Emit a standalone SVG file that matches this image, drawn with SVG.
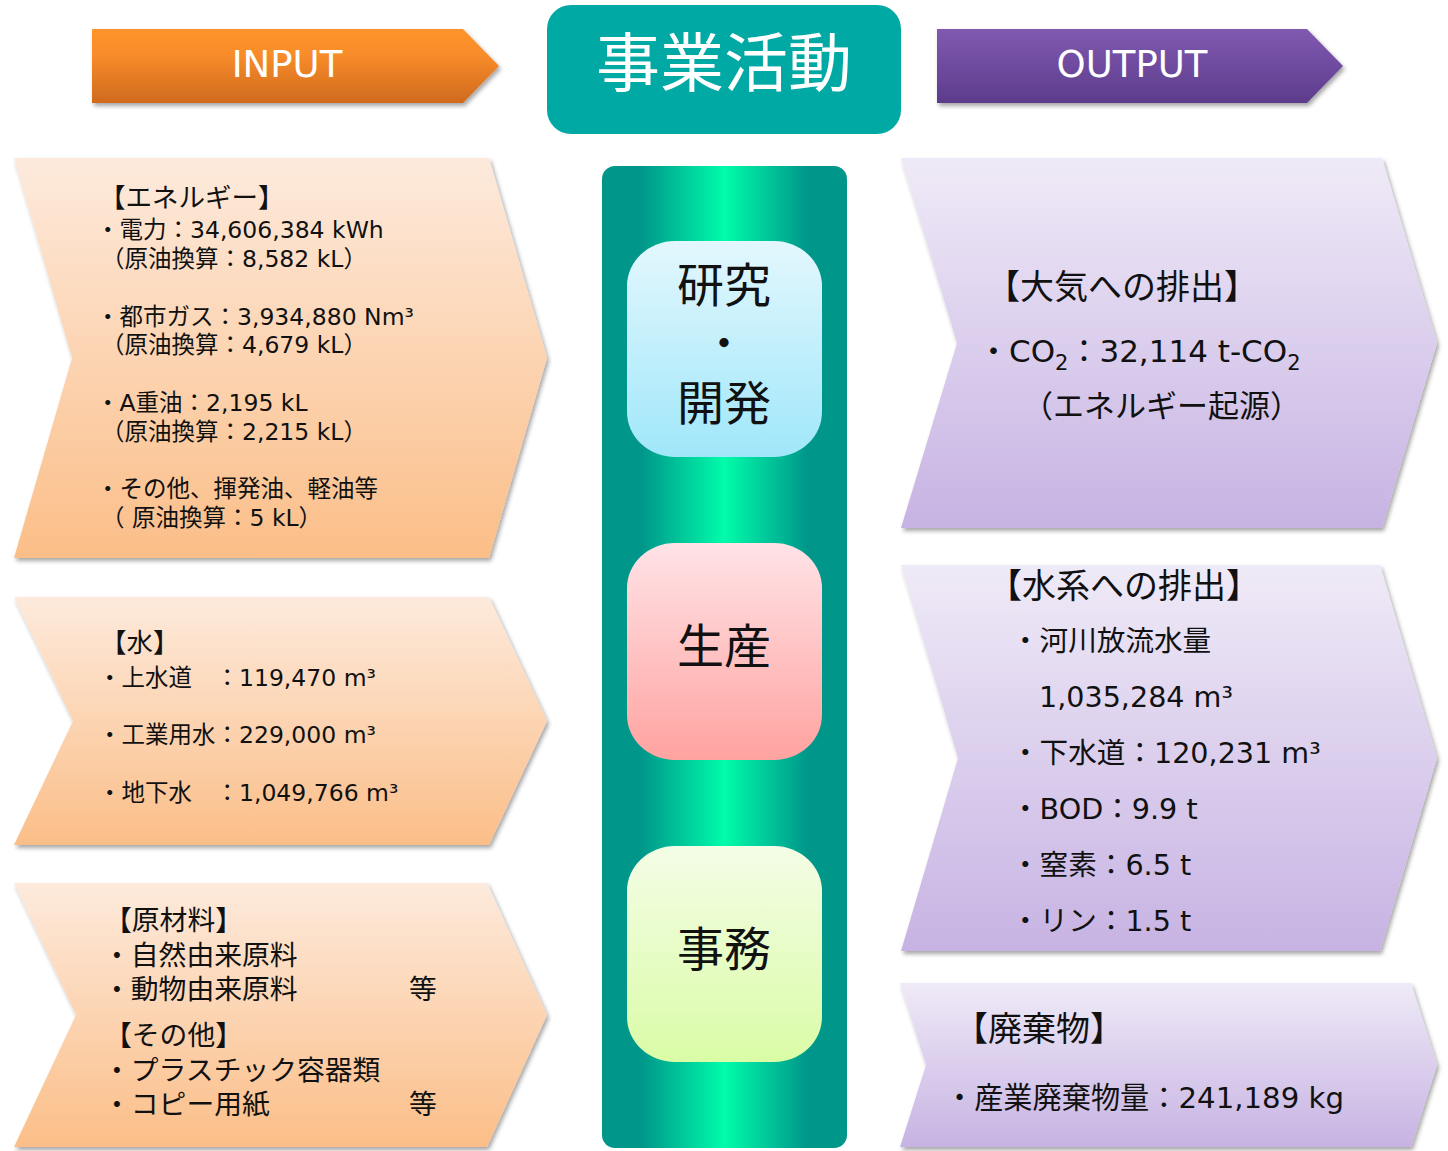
<svg xmlns="http://www.w3.org/2000/svg" width="1448" height="1151" viewBox="0 0 1448 1151">
<defs>
  <linearGradient id="gIn" x1="0" y1="0" x2="0" y2="1">
    <stop offset="0" stop-color="#FDEADC"/>
    <stop offset="1" stop-color="#FBBE88"/>
  </linearGradient>
  <linearGradient id="gOut" x1="0" y1="0" x2="0" y2="1">
    <stop offset="0" stop-color="#EFEAF7"/>
    <stop offset="1" stop-color="#C7B3E3"/>
  </linearGradient>
  <linearGradient id="gInBan" x1="0" y1="0" x2="0" y2="1">
    <stop offset="0" stop-color="#FF942D"/>
    <stop offset="0.35" stop-color="#F88C2A"/>
    <stop offset="1" stop-color="#CF6A1E"/>
  </linearGradient>
  <linearGradient id="gOutBan" x1="0" y1="0" x2="0" y2="1">
    <stop offset="0" stop-color="#8059B1"/>
    <stop offset="1" stop-color="#5D3C8B"/>
  </linearGradient>
  <linearGradient id="gCol" x1="0" y1="0" x2="1" y2="0">
    <stop offset="0" stop-color="#00968A"/>
    <stop offset="0.16" stop-color="#00968A"/>
    <stop offset="0.5" stop-color="#00FCAA"/>
    <stop offset="0.84" stop-color="#00968A"/>
    <stop offset="1" stop-color="#00968A"/>
  </linearGradient>
  <linearGradient id="gBlue" x1="0" y1="0" x2="0" y2="1">
    <stop offset="0" stop-color="#E3F7FD"/>
    <stop offset="1" stop-color="#A0E7FA"/>
  </linearGradient>
  <linearGradient id="gPink" x1="0" y1="0" x2="0" y2="1">
    <stop offset="0" stop-color="#FFE3E7"/>
    <stop offset="1" stop-color="#FFA3A0"/>
  </linearGradient>
  <linearGradient id="gGreen" x1="0" y1="0" x2="0" y2="1">
    <stop offset="0" stop-color="#F4FDE6"/>
    <stop offset="1" stop-color="#DAFCA6"/>
  </linearGradient>
  <filter id="sh" x="-5%" y="-5%" width="112%" height="115%">
    <feDropShadow dx="2" dy="3" stdDeviation="2" flood-color="#000" flood-opacity="0.35"/>
  </filter>
</defs>
<style>
  text { font-family: 'DejaVu Sans', 'Noto Sans CJK JP', sans-serif; fill: #111; }
  .ban { fill: #fff; font-size: 37px; text-anchor: middle; }
  .t23 { font-size: 23.5px; }
  .h26 { font-size: 26.5px; }
  .t27 { font-size: 27.8px; }
  .oh { font-size: 34px; }
  .o31 { font-size: 31px; }
  .o28 { font-size: 28.6px; }
  .mid { font-size: 47px; text-anchor: middle; font-family: 'Noto Sans CJK JP', sans-serif; }
  .dot { font-size: 36px; font-weight: bold; text-anchor: middle; font-family: 'Noto Sans CJK JP', sans-serif; }
</style>

<g id="input-banner">
  <path d="M92,29 L463,29 L499,66 L463,103 L92,103 Z" fill="url(#gInBan)" filter="url(#sh)"/>
  <text class="ban" x="287" y="77">INPUT</text>
</g>

<g id="output-banner">
  <path d="M937,29 L1307,29 L1343,66 L1307,103 L937,103 Z" fill="url(#gOutBan)" filter="url(#sh)"/>
  <text class="ban" x="1132" y="77">OUTPUT</text>
</g>

<g id="business-activity">
  <rect x="547" y="5" width="354" height="129" rx="24" fill="#00A9A4"/>
  <text x="724" y="86" font-size="64" text-anchor="middle" style="fill:#fff;font-family:'Noto Sans CJK JP',sans-serif">事業活動</text>
</g>

<g id="column">
  <rect x="602" y="166" width="245" height="982" rx="13" fill="url(#gCol)"/>
</g>

<g id="rd">
  <rect x="627" y="241" width="195" height="216" rx="48" ry="45" fill="url(#gBlue)"/>
  <text class="mid" x="724" y="302">研究</text>
  <text class="dot" x="724" y="357">・</text>
  <text class="mid" x="724" y="420">開発</text>
</g>

<g id="production">
  <rect x="627" y="543" width="195" height="217" rx="48" ry="45" fill="url(#gPink)"/>
  <text class="mid" x="724" y="663">生産</text>
</g>

<g id="office">
  <rect x="627" y="846" width="195" height="216" rx="48" ry="45" fill="url(#gGreen)"/>
  <text class="mid" x="724" y="966">事務</text>
</g>

<g id="input-energy">
  <path d="M14,158 L489,158 L547,358 L489,558 L14,558 L72,358 Z" fill="url(#gIn)" filter="url(#sh)"/>
  <text class="h26" x="99" y="207">【エネルギー】</text>
  <text class="t23" x="96" y="238">・電力：34,606,384 kWh</text>
  <text class="t23" x="101" y="267">（原油換算：8,582 kL）</text>
  <text class="t23" x="96" y="325">・都市ガス：3,934,880 Nm³</text>
  <text class="t23" x="101" y="353">（原油換算：4,679 kL）</text>
  <text class="t23" x="96" y="411">・A重油：2,195 kL</text>
  <text class="t23" x="101" y="440">（原油換算：2,215 kL）</text>
  <text class="t23" x="96" y="497">・その他、揮発油、軽油等</text>
  <text class="t23" x="101" y="526">（ 原油換算：5 kL）</text>
</g>

<g id="input-water">
  <path d="M14,597 L489,597 L547,721 L489,845 L14,845 L73,721 Z" fill="url(#gIn)" filter="url(#sh)"/>
  <text class="h26" x="100" y="652">【水】</text>
  <text class="t23" x="98" y="686">・上水道　：119,470 m³</text>
  <text class="t23" x="98" y="743">・工業用水：229,000 m³</text>
  <text class="t23" x="98" y="801">・地下水　：1,049,766 m³</text>
</g>

<g id="input-materials">
  <path d="M14,883 L487,883 L547,1015 L487,1147 L14,1147 L76,1015 Z" fill="url(#gIn)" filter="url(#sh)"/>
  <text class="t27" x="104" y="930">【原材料】</text>
  <text class="t27" x="103" y="965">・自然由来原料</text>
  <text class="t27" x="103" y="999">・動物由来原料</text>
  <text class="t27" x="409" y="999">等</text>
  <text class="t27" x="104" y="1045">【その他】</text>
  <text class="t27" x="103" y="1080">・プラスチック容器類</text>
  <text class="t27" x="103" y="1114">・コピー用紙</text>
  <text class="t27" x="409" y="1114">等</text>
</g>

<g id="output-air">
  <path d="M901,158 L1382,158 L1437,343 L1382,528 L901,528 L957,343 Z" fill="url(#gOut)" filter="url(#sh)"/>
  <text class="oh" x="986" y="299">【大気への排出】</text>
  <text class="o31" x="978" y="362">・CO<tspan font-size="21" dy="8">2</tspan><tspan dy="-8">：32,114 t-CO</tspan><tspan font-size="21" dy="8">2</tspan></text>
  <text class="o31" x="1022" y="417">（エネルギー起源）</text>
</g>

<g id="output-water">
  <path d="M901,565 L1380,565 L1437,758 L1380,951 L901,951 L958,758 Z" fill="url(#gOut)" filter="url(#sh)"/>
  <text class="oh" x="988" y="598">【水系への排出】</text>
  <text class="o28" x="1011" y="651">・河川放流水量</text>
  <text class="o28" x="1039" y="707">1,035,284 m³</text>
  <text class="o28" x="1011" y="763">・下水道：120,231 m³</text>
  <text class="o28" x="1011" y="819">・BOD：9.9 t</text>
  <text class="o28" x="1011" y="875">・窒素：6.5 t</text>
  <text class="o28" x="1011" y="931">・リン：1.5 t</text>
</g>

<g id="output-waste">
  <path d="M900,983 L1411,983 L1437,1065 L1411,1147 L900,1147 L926,1065 Z" fill="url(#gOut)" filter="url(#sh)"/>
  <text class="oh" x="954" y="1041">【廃棄物】</text>
  <text x="945" y="1108" font-size="29.2">・産業廃棄物量：241,189 kg</text>
</g>

<g id="connectors"/>
</svg>
